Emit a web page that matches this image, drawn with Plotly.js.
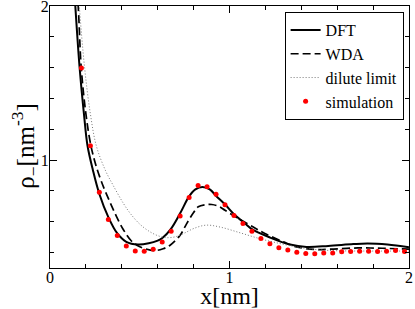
<!DOCTYPE html>
<html>
<head>
<meta charset="utf-8">
<script src="https://cdn.plot.ly/plotly-3.0.1.min.js"></script>
<style>html,body{margin:0;padding:0;background:#fff;}#plot{width:415px;height:309px;}</style>
</head>
<body>
<div id="plot"></div>
<script>
// DFT (solid)
const dftX = [0.125,0.141,0.165,0.19,0.209,0.239,0.275,0.325,0.375,0.425,0.49,0.55,0.60,0.626,0.675,0.725,0.775,0.81,0.849,0.89,0.927,0.977,1.027,1.086,1.127,1.225,1.337,1.429,1.55,1.69,1.77,1.88,2.0];
const dftY = [2.3,2.0,1.6,1.29,1.093,0.935,0.78,0.63,0.524,0.47,0.452,0.46,0.478,0.495,0.556,0.655,0.765,0.81,0.826,0.81,0.766,0.71,0.647,0.589,0.55,0.498,0.452,0.437,0.443,0.455,0.459,0.452,0.435];
// WDA (dashed)
const wdaX = [0.14,0.157,0.174,0.20,0.228,0.26,0.30,0.335,0.37,0.409,0.45,0.484,0.53,0.585,0.63,0.669,0.725,0.76,0.80,0.826,0.862,0.901,0.94,0.975,1.05,1.13,1.197,1.30,1.374,1.485,1.56,1.716,1.85,2.0];
const wdaY = [2.25,2.0,1.6,1.3,1.093,0.95,0.82,0.725,0.635,0.548,0.48,0.448,0.425,0.413,0.425,0.448,0.513,0.585,0.66,0.697,0.71,0.712,0.70,0.675,0.62,0.567,0.524,0.47,0.437,0.42,0.422,0.43,0.428,0.422];
// dilute limit (dotted)
const dilX = [0.145,0.163,0.193,0.225,0.258,0.308,0.35,0.409,0.45,0.50,0.55,0.60,0.65,0.70,0.75,0.80,0.87,0.95,1.06,1.17,1.28,1.39,1.50,1.6,1.8,2.0];
const dilY = [2.3,2.0,1.597,1.3,1.093,0.935,0.84,0.719,0.65,0.585,0.54,0.51,0.497,0.503,0.527,0.556,0.578,0.565,0.528,0.49,0.459,0.433,0.418,0.412,0.41,0.41];
// simulation (red dots)
const simX = [0.175,0.225,0.275,0.325,0.375,0.425,0.475,0.525,0.575,0.625,0.675,0.725,0.775,0.825,0.875,0.925,0.975,1.025,1.075,1.125,1.175,1.225,1.275,1.325,1.375,1.425,1.475,1.525,1.575,1.625,1.675,1.725,1.775,1.825,1.875,1.925,1.975];
const simY = [1.597,1.093,0.791,0.614,0.511,0.442,0.411,0.409,0.422,0.468,0.539,0.638,0.758,0.836,0.827,0.779,0.710,0.641,0.588,0.539,0.492,0.457,0.431,0.416,0.403,0.394,0.392,0.398,0.398,0.405,0.407,0.409,0.409,0.407,0.409,0.414,0.407];

const names = ["DFT","WDA","dilute limit","simulation"];
const xTitle = "x[nm]";
const yTitle = "ρ<sub>−</sub>[nm<sup>-3</sup>]";
const serif = "Liberation Serif";

const traces = [
  {x: dftX, y: dftY, name: names[0], mode: "lines", line: {color: "#000", width: 2, shape: "spline"}},
  {x: wdaX, y: wdaY, name: names[1], mode: "lines", line: {color: "#000", width: 1.7, dash: "8px,4px", shape: "spline"}},
  {x: dilX, y: dilY, name: names[2], mode: "lines", line: {color: "#777", width: 1, dash: "1px,2px", shape: "spline"}},
  {x: simX, y: simY, name: names[3], mode: "markers", marker: {color: "#ff0000", size: 5}}
];

const axisCommon = {
  showline: true, linecolor: "#000", linewidth: 1, mirror: "ticks",
  ticks: "inside", ticklen: 7, tickcolor: "#000", tickwidth: 1,
  showgrid: false, zeroline: false, automargin: false,
  ticklabeloverflow: "allow",
  tickfont: {family: serif, size: 16, color: "#000"},
  tick0: 0, dtick: 1,
  minor: {ticks: "inside", ticklen: 4, tickcolor: "#000", tickwidth: 1, dtick: 0.2, tick0: 0, showgrid: false}
};

const layout = {
  width: 415, height: 309,
  margin: {l: 50, r: 6, t: 6, b: 41},
  paper_bgcolor: "#fff", plot_bgcolor: "#fff",
  showlegend: true,
  hovermode: false,
  font: {family: serif, color: "#000"},
  xaxis: Object.assign({}, axisCommon, {
    range: [0, 2],
    ticklabelstandoff: -5,
    title: {text: xTitle, font: {family: serif, size: 24, color: "#000"}, standoff: 0}
  }),
  yaxis: Object.assign({}, axisCommon, {
    range: [0.3, 2],
    ticklabelstandoff: -3
  }),
  annotations: [{
    text: yTitle, xref: "paper", yref: "paper", x: -0.068, y: 0.465,
    xanchor: "center", yanchor: "middle", textangle: -90, showarrow: false,
    font: {family: serif, size: 25, color: "#000"}
  }],
  legend: {
    x: 0.985, y: 0.977, xanchor: "right", yanchor: "top",
    bgcolor: "#fff", bordercolor: "#000", borderwidth: 1,
    font: {family: serif, size: 16, color: "#000"},
    itemwidth: 30, tracegroupgap: 0
  }
};

Plotly.newPlot("plot", traces, layout, {staticPlot: true, displayModeBar: false});
</script>
</body>
</html>
